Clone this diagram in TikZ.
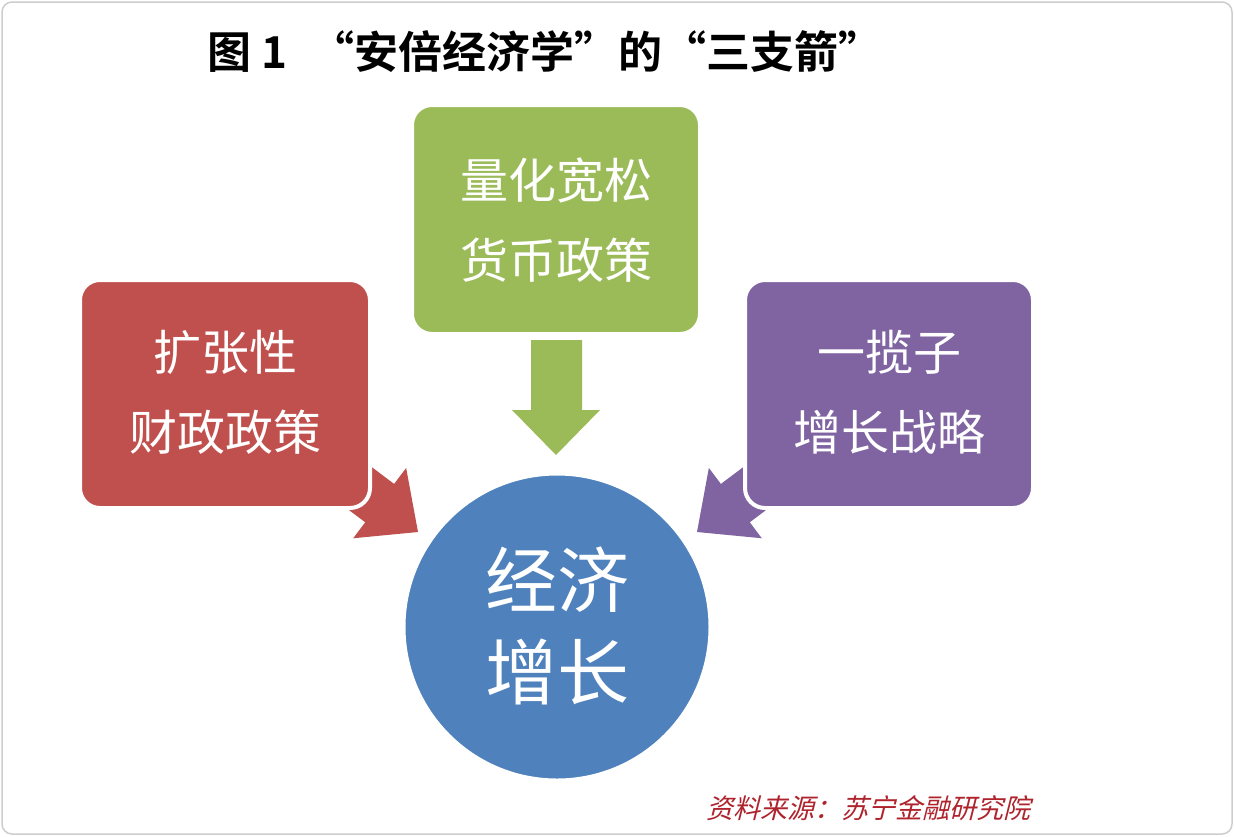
\documentclass[tikz,border=0pt]{standalone}
\usepackage{fontspec}
\newfontfamily\cjk{Noto Sans CJK SC}
\newfontfamily\cjkb{Noto Sans CJK SC Bold}
\newfontfamily\cjks[FakeSlant=0.25]{Noto Sans CJK SC}
\definecolor{gbox}{RGB}{155,187,89}
\definecolor{rbox}{RGB}{192,80,77}
\definecolor{pbox}{RGB}{128,100,162}
\definecolor{bcirc}{RGB}{79,129,189}
\definecolor{srcred}{RGB}{175,35,45}
\definecolor{frame}{RGB}{205,205,205}
\tikzset{
  box/.style={draw=white, line width=4pt, rounded corners=20pt},
  boxtext/.style={text=white, font=\fontsize{48}{56}\selectfont\cjk, align=center},
}
\begin{document}
\begin{tikzpicture}[x=1pt,y=-1pt]
\useasboundingbox (0,0) rectangle (1234,836);
\fill[white] (0,0) rectangle (1234,836);
\draw[frame, line width=1.5pt, rounded corners=10pt] (2,2) rectangle (1232,834);
% title
\node (title) at (545,52) {\fontsize{44}{48}\selectfont\cjkb 图 1 \;“安倍经济学”的“三支箭”};
% arrows (behind boxes)
\begin{scope}[shift={(418,532)}, rotate=-37]
  \fill[rbox] (0,0) -- (-48,44) -- (-48,24) -- (-130,24) -- (-130,-24) -- (-48,-24) -- (-48,-44) -- cycle;
\end{scope}
\begin{scope}[shift={(697,532)}, rotate=-143]
  \fill[pbox] (0,0) -- (-48,44) -- (-48,24) -- (-130,24) -- (-130,-24) -- (-48,-24) -- (-48,-44) -- cycle;
\end{scope}
\fill[gbox] (531,340) -- (582,340) -- (582,410) -- (600,410) -- (556,455) -- (512,410) -- (531,410) -- cycle;
% boxes
\filldraw[box, fill=gbox] (412,105) rectangle (700,334);
\filldraw[box, fill=rbox] (80,280) rectangle (370,508);
\filldraw[box, fill=pbox] (745,280) rectangle (1033,508);
\node[boxtext] (g1) at (556,180) {量化宽松};
\node[boxtext] (g2) at (556,260) {货币政策};
\node[boxtext] (r1) at (225,352) {扩张性};
\node[boxtext] (r2) at (225,432) {财政政策};
\node[boxtext] (p1) at (889,352) {一揽子};
\node[boxtext] (p2) at (889,432) {增长战略};
% circle
\filldraw[draw=white, line width=3pt, fill=bcirc] (557,627) circle (153);
\node[text=white, font=\fontsize{72}{80}\selectfont\cjk] (c1) at (557,580) {经济};
\node[text=white, font=\fontsize{72}{80}\selectfont\cjk] (c2) at (557,672) {增长};
% source
\node[text=srcred, font=\fontsize{27}{30}\selectfont\cjks] (src) at (868,808) {资料来源：苏宁金融研究院};
\end{tikzpicture}
\end{document}
